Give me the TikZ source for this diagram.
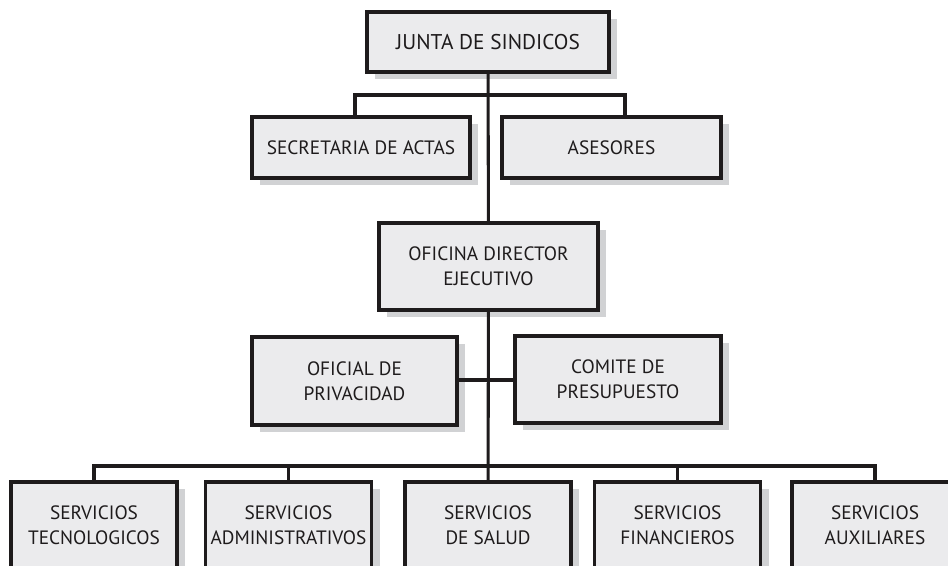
\documentclass[tikz,border=0pt]{standalone}
\usepackage{fontspec}
\setmainfont{PT Sans}
\usetikzlibrary{shadows}
\definecolor{boxfill}{RGB}{235,235,237}
\definecolor{shadowgray}{RGB}{209,210,212}
\definecolor{inkgray}{RGB}{30,27,28}

\begin{document}
\begin{tikzpicture}[x=0.75pt, y=-0.75pt,
	unit/.style={rectangle, draw=inkgray, fill=boxfill, line width=2.3pt,
	inner sep=0pt, align=center, text=inkgray,
	font=\fontsize{14.5}{18.8}\selectfont,
	drop shadow={shadow xshift=6pt, shadow yshift=-5.25pt, fill=shadowgray, opacity=1}},
	boxsize/.style 2 args={minimum width=#1, minimum height=#2},
	link/.style={draw=inkgray, line width=2.3pt}]

\useasboundingbox (0,0) rectangle (948,565);
\clip (0,0) rectangle (948,565);

% top levels
\node[unit, boxsize={181.5pt}{45pt}, font=\fontsize{16}{19}\selectfont] at (488,42) (junta) {JUNTA DE SINDICOS};
\node[unit, boxsize={163.5pt}{45.75pt}] at (361,147.5) (secre) {SECRETARIA DE ACTAS};
\node[unit, boxsize={164.25pt}{45.75pt}] at (611.5,147.5) (ases) {ASESORES};
\node[unit, boxsize={164.25pt}{65.25pt}] at (488.5,266.5) (ofic) {OFICINA DIRECTOR\\EJECUTIVO};
\node[unit, boxsize={153.75pt}{66pt}] at (354.5,381) (oficial) {OFICIAL DE\\PRIVACIDAD};
\node[unit, boxsize={154.5pt}{65.25pt}] at (618,379.5) (comite) {COMITE DE\\PRESUPUESTO};

% services
\foreach \x/\txt [count=\i] in {94/{SERVICIOS\\TECNOLOGICOS},
	288.5/{SERVICIOS\\ADMINISTRATIVOS}, 488/{SERVICIOS\\DE SALUD},
	677.5/{SERVICIOS\\FINANCIEROS}, 875/{SERVICIOS\\AUXILIARES}}
	\node[unit, boxsize={124.5pt}{64.5pt}] at (\x,525) (svc\i) {\txt};

\coordinate (barA) at (488,95);
\coordinate (barB) at (488,380);
\coordinate (barC) at (488,466);

\draw[link] (junta) -- (ofic);
\draw[link] (ofic) -- (svc3);
\draw[link] ([xshift=-4.5pt]secre.north) |- (barA) -| ([xshift=10.125pt]ases.north);
\draw[link] (oficial.east |- barB) -- (comite.west |- barB);
\draw[link] (svc1.north) |- (barC) -| (svc5.north);
\foreach \i in {2,4}
	\draw[link] (svc\i.north) -- (svc\i.north |- barC);
\end{tikzpicture}
\end{document}
